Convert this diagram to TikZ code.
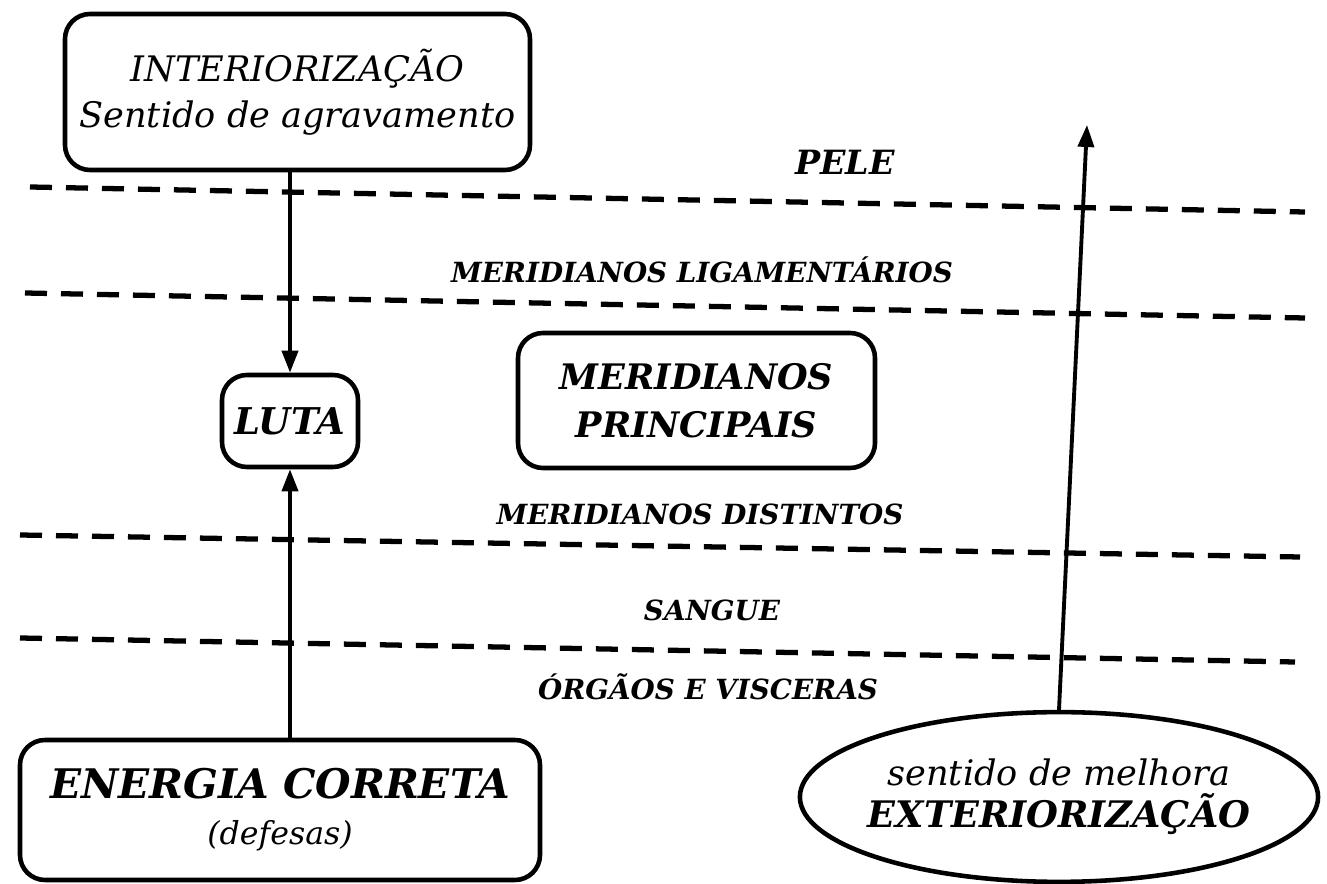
\documentclass[tikz,border=0pt]{standalone}
\usepackage{fontspec}
\setmainfont{DejaVu Serif}
\usetikzlibrary{shapes.geometric,arrows.meta}
\tikzset{
  caixa/.style={draw, line width=1.3pt, rounded corners=0.25cm, align=center, inner sep=0pt},
  camada/.style={line width=1.5pt, dash pattern=on 0.22cm off 0.14cm},
  rotulo/.style={font=\fontsize{7.9}{10}\selectfont\bfseries\itshape},
}
\begin{document}
\begin{tikzpicture}[x=1cm, y=-1cm, >={Triangle[length=0.22cm,width=0.16cm]}, line width=1.1pt]
\useasboundingbox (0,0) rectangle (13.27,8.84);
\node[caixa, minimum width=4.65cm, minimum height=1.56cm, font=\fontsize{10}{13}\selectfont\itshape] (int) at (2.975,0.92) {INTERIORIZAÇÃO\\Sentido de agravamento};
\node[caixa, minimum width=1.36cm, minimum height=0.92cm, font=\fontsize{10.5}{12}\selectfont\bfseries\itshape] (luta) at (2.90,4.21) {LUTA};
\node[caixa, minimum width=3.57cm, minimum height=1.35cm, font=\fontsize{10}{13.5}\selectfont\bfseries\itshape] (mp) at (6.965,4.005) {MERIDIANOS\\PRINCIPAIS};
\node[caixa, minimum width=5.2cm, minimum height=1.4cm, align=center] (ener) at (2.80,8.10) {{\fontsize{11.6}{14}\selectfont\bfseries\itshape ENERGIA CORRETA}\\[1pt]{\fontsize{9}{11}\selectfont\itshape (defesas)}};
\node[draw, ellipse, line width=1.3pt, inner xsep=-0.08cm, inner ysep=0.22cm, align=center] (ext) at (10.59,7.97) {{\fontsize{10}{12}\selectfont\itshape sentido de melhora}\\{\fontsize{10.4}{13}\selectfont\bfseries\itshape EXTERIORIZAÇÃO}};
% camadas
\draw[camada] (0.30,1.87) -- (13.05,2.12);
\draw[camada] (0.25,2.93) -- (13.05,3.18);
\draw[camada] (0.20,5.35) -- (13.00,5.57);
\draw[camada] (0.20,6.38) -- (12.95,6.62);
\node[rotulo, font=\fontsize{9.5}{11}\selectfont\bfseries\itshape] (pele) at (8.45,1.62) {PELE};
\node[rotulo] (lig) at (7.02,2.70) {MERIDIANOS LIGAMENTÁRIOS};
\node[rotulo] (dist) at (7.00,5.14) {MERIDIANOS DISTINTOS};
\node[rotulo] (sang) at (7.12,6.10) {SANGUE};
\node[rotulo] (org) at (7.08,6.87) {ÓRGÃOS E VISCERAS};
% setas
\coordinate (topo) at (10.87,1.25);
\draw[->] (luta.north |- int.south) -- (luta.north);
\draw[->] (luta.south |- ener.north) -- (luta.south);
\draw[->] (ext.north) -- (topo);
\end{tikzpicture}
\end{document}
